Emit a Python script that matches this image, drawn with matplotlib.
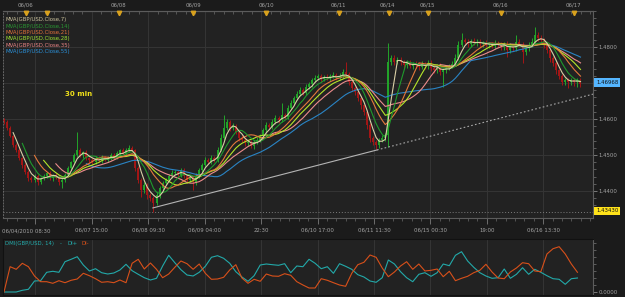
import numpy as np
import pandas as pd
import matplotlib
matplotlib.use("Agg")
import matplotlib.pyplot as plt
from matplotlib.ticker import FixedLocator, NullFormatter

plt.rcParams['font.family'] = ['DejaVu Sans']

# ---------------- data (hourly bars, GBP/USD) ----------------
start_open = 1.4600
close = [
    1.4592, 1.4575, 1.4553, 1.4528, 1.4514, 1.4492, 1.4472, 1.4453, 1.4436, 1.4431,
    1.4442, 1.4425, 1.4436, 1.4442, 1.4450, 1.4436, 1.4445, 1.4439, 1.4425, 1.4431,
    1.4445, 1.4464, 1.4481, 1.4500, 1.4514, 1.4500, 1.4508, 1.4492, 1.4486, 1.4481,
    1.4492, 1.4486, 1.4495, 1.4486, 1.4492, 1.4500, 1.4495, 1.4506, 1.4514, 1.4503,
    1.4514, 1.4519, 1.4514, 1.4464, 1.4431, 1.4403, 1.4417, 1.4389, 1.4381, 1.4367,
    1.4389, 1.4408, 1.4422, 1.4431, 1.4442, 1.4450, 1.4453, 1.4445, 1.4458, 1.4442,
    1.4431, 1.4436, 1.4425, 1.4442, 1.4458, 1.4472, 1.4486, 1.4481, 1.4492, 1.4486,
    1.4514, 1.4547, 1.4575, 1.4592, 1.4575, 1.4581, 1.4564, 1.4547, 1.4542, 1.4533,
    1.4536, 1.4525, 1.4536, 1.4542, 1.4553, 1.4569, 1.4583, 1.4578, 1.4592, 1.4603,
    1.4597, 1.4611, 1.4606, 1.4631, 1.4645, 1.4658, 1.4670, 1.4681, 1.4672, 1.4689,
    1.4697, 1.4708, 1.4714, 1.4719, 1.4711, 1.4717, 1.4714, 1.4719, 1.4722, 1.4714,
    1.4719, 1.4731, 1.4725, 1.4703, 1.4686, 1.4675, 1.4658, 1.4639, 1.4619, 1.4583,
    1.4547, 1.4536, 1.4528, 1.4542, 1.4547, 1.4556, 1.4758, 1.4770, 1.4758, 1.4764,
    1.4758, 1.4750, 1.4756, 1.4747, 1.4753, 1.4750, 1.4745, 1.4753, 1.4747, 1.4756,
    1.4742, 1.4736, 1.4747, 1.4731, 1.4736, 1.4742, 1.4747, 1.4753, 1.4770, 1.4806,
    1.4819, 1.4814, 1.4808, 1.4817, 1.4811, 1.4814, 1.4808, 1.4811, 1.4806, 1.4808,
    1.4803, 1.4811, 1.4806, 1.4800, 1.4808, 1.4792, 1.4803, 1.4797, 1.4814, 1.4806,
    1.4786, 1.4797, 1.4806, 1.4814, 1.4833, 1.4825, 1.4819, 1.4806, 1.4792, 1.4769,
    1.4756, 1.4736, 1.4719, 1.4703, 1.4708, 1.4703, 1.4708, 1.4703, 1.4708, 1.4697,
]
# wick sizes in pips above max(open, close) / below min(open, close)
hi_wick = [
    3, 4, 5, 3, 4, 6, 3, 5, 4, 6,   5, 4, 3, 6, 4, 5, 3, 4, 6, 5,
    4, 6, 3, 5, 50, 5, 4, 6, 3, 5,  4, 5, 6, 3, 4, 5, 6, 4, 3, 5,
    6, 8, 5, 4, 6, 5, 7, 4, 5, 6,   7, 5, 6, 4, 5, 8, 6, 4, 7, 5,
    4, 6, 5, 7, 5, 6, 8, 5, 7, 6,   8, 10, 36, 9, 6, 7, 5, 6, 8, 5,
    6, 7, 5, 8, 6, 7, 9, 6, 8, 7,   6, 34, 7, 8, 9, 6, 7, 8, 6, 9,
    7, 6, 8, 5, 7, 6, 8, 7, 9, 6,   8, 9, 27, 5, 6, 7, 5, 6, 4, 5,
    6, 5, 7, 6, 8, 6, 53, 8, 7, 9,  7, 6, 8, 7, 6, 9, 7, 8, 6, 7,
    8, 6, 7, 9, 6, 8, 7, 9, 10, 12, 20, 7, 8, 6, 9, 7, 8, 6, 9, 7,
    6, 8, 7, 9, 6, 8, 7, 6, 19, 8,  7, 9, 8, 10, 23, 9, 8, 6, 5, 6,
    5, 6, 4, 5, 7, 6, 5, 7, 6, 5,
]
lo_wick = [
    5, 6, 4, 7, 5, 6, 8, 7, 9, 6,   7, 8, 6, 5, 7, 6, 8, 5, 7, 17,
    6, 5, 7, 4, 6, 5, 7, 6, 8, 5,   6, 5, 7, 4, 6, 5, 6, 7, 5, 6,
    5, 6, 7, 9, 8, 20, 8, 10, 9, 24, 6, 8, 7, 5, 6, 7, 5, 8, 6, 7,
    8, 6, 22, 7, 5, 6, 4, 7, 5, 6,  5, 4, 6, 5, 8, 6, 7, 9, 6, 8,
    7, 6, 8, 5, 6, 5, 7, 6, 5, 6,   7, 5, 6, 5, 4, 6, 5, 7, 6, 5,
    6, 7, 5, 6, 7, 5, 6, 8, 5, 7,   6, 5, 7, 8, 7, 9, 8, 10, 9, 11,
    10, 9, 12, 8, 7, 9, 34, 7, 8, 6, 8, 7, 9, 6, 8, 7, 9, 6, 8, 7,
    9, 8, 7, 10, 42, 8, 7, 6, 5, 6, 7, 6, 8, 7, 6, 8, 7, 9, 6, 8,
    7, 9, 6, 8, 7, 20, 8, 7, 9, 6,  30, 8, 7, 6, 8, 9, 7, 10, 9, 11,
    10, 12, 8, 9, 8, 17, 9, 10, 14, 8,
]

ma_windows = [4, 7, 11, 14, 18, 28]
ma_labels = ['MVA(GBP/USD.Close,7)', 'MVA(GBP/USD.Close,14)', 'MVA(GBP/USD.Close,21)',
             'MVA(GBP/USD.Close,28)', 'MVA(GBP/USD.Close,35)', 'MVA(GBP/USD.Close,55)']
ma_colors = ['#d9cfa6', '#1f9a2c', '#e57a3c', '#b4e62a', '#ec8c8c', '#2a84c4']
ma_text_colors = ['#c9c19c', '#2a9632', '#e0703a', '#9ee032', '#e88484', '#2a90d8']

# DMI(14) sampled every 2 bars
di_plus = [
    0, 0, 0, 1.7, 2.7, 11, 11.3, 19.7, 20.7, 19.7,
    30.3, 32.7, 35.3, 27, 21, 23.3, 19.3, 18, 19, 22,
    27.7, 21.3, 17.7, 14.3, 12, 13.7, 26, 36.7, 29.3, 22.3,
    17, 16, 19.7, 25.7, 34.7, 36.3, 33.7, 28.7, 20.3, 15,
    10.7, 16.3, 27, 28, 27.3, 26.7, 28.3, 19.3, 26, 25.3,
    32.7, 28.7, 23.3, 25.3, 18.7, 28.3, 25.7, 22.7, 17.3, 15,
    11, 9.7, 14.3, 32, 28, 20.3, 14.3, 10.3, 17.7, 19.3,
    15.7, 19.3, 28, 26.3, 36.7, 40.3, 31, 24.7, 19.3, 16,
    13.7, 14.3, 23, 13.7, 17.7, 24.3, 17.7, 22.7, 19.7, 16.3,
    13.3, 12.7, 7.7, 13.3, 14,
]
di_minus = [
    0, 25.3, 22.7, 28.7, 25.3, 16, 10.3, 10.3, 8.7, 11.3,
    9.3, 11.7, 13, 18.7, 16.3, 13.3, 9.7, 10.3, 9.3, 12,
    9.3, 28.7, 32.7, 23, 29, 22.7, 14.3, 18, 24.7, 31,
    28.3, 22.7, 28, 18.7, 12.7, 13, 14.7, 22, 27.3, 14,
    8.7, 12.7, 10.7, 18, 16, 15.7, 18.3, 16.7, 10.3, 7,
    4, 4, 13.3, 11.7, 9.3, 7, 5.7, 18.7, 27.3, 29.7,
    37, 34.7, 24, 15.3, 20, 26, 30.3, 22.7, 28, 21,
    21.7, 23, 15.3, 20.7, 11.3, 13.7, 15.7, 19.3, 21.7, 27.7,
    20, 14, 13.3, 20, 24, 29.3, 28.3, 21, 20.3, 38,
    43.3, 45.3, 38, 28, 19.7,
]

trend_x = [48.8, 122.3]
trend_p = [1.4353, 1.4514]
last_price = 1.46968
low_price = 1.43430

bottom_tick_pos = [10.3, 28.8, 47.3, 65.8, 84.3, 102.8, 121.3, 139.8, 158.3, 176.8]
bottom_tick_labels = ['', '06/07 15:00', '06/08 09:30', '06/09 04:00', '22:30',
                      '06/10 17:00', '06/11 11:30', '06/15 00:30', '19:00', '06/16 13:30']
first_label = '06/04/2010 08:30'
top_label_pos = [6.9, 37.5, 62.0, 85.9, 109.5, 125.6, 138.7, 162.6, 186.6]
top_labels = ['06/06', '06/08', '06/09', '06/10', '06/11', '06/14', '06/15', '06/16', '06/17']
day_marker_pos = [7.2, 14.1, 37.7, 62.0, 85.9, 109.8, 126.2, 139.0, 163.0, 186.9]
price_ticks = [1.44, 1.45, 1.46, 1.47, 1.48]

# ---------------- styling ----------------
W, H = 625, 297
FIG_BG = '#1b1b1b'
AX_BG = '#222222'
GRID = '#343434'
TXT = '#a3a3a3'
UP = '#22a52a'
DOWN = '#a51616'
FS = 3.9


def fx(px):
    return px / W


def fy(py):
    return 1 - py / H


fig = plt.figure(figsize=(W / 100, H / 100), dpi=100, facecolor=FIG_BG)

# ---------------- main price panel ----------------
ax = fig.add_axes([fx(3), fy(218), (593 - 3) / W, (218 - 11) / H])
ax.set_facecolor(AX_BG)
ax.set_xlim(-0.33, 193.1)
ax.set_ylim(1.4325, 1.4900)

c = np.array(close)
o = np.r_[start_open, c[:-1]]
x = np.arange(len(c))
top_body = np.maximum(o, c)
bot_body = np.minimum(o, c)
hi = top_body + np.array(hi_wick) * 1e-4
lo = bot_body - np.array(lo_wick) * 1e-4
up = c >= o
for m, col in ((up, UP), (~up, DOWN)):
    ax.vlines(x[m], lo[m], hi[m], color=col, lw=0.7, zorder=2)
    ax.vlines(x[m], bot_body[m], top_body[m], color=col, lw=1.4, zorder=2)

s = pd.Series(c)
for w, col in zip(ma_windows[::-1], ma_colors[::-1]):
    ax.plot(x, s.rolling(w).mean(), color=col, lw=0.8, zorder=3)

# trend line
slope = (trend_p[1] - trend_p[0]) / (trend_x[1] - trend_x[0])
ax.plot(trend_x, trend_p, color='#b4b4b4', lw=0.8, zorder=4)
x_end = ax.get_xlim()[1]
ax.plot([trend_x[1], x_end], [trend_p[1], trend_p[1] + slope * (x_end - trend_x[1])],
        color='#a8a8a8', lw=0.8, ls=(0, (1.5, 2)), zorder=4)

ax.axhline(low_price, color='#7c7c7c', lw=0.7, ls=(0, (1, 2)), zorder=1)

# axes / ticks
ax.yaxis.tick_right()
ax.yaxis.set_major_locator(FixedLocator(price_ticks))
ax.yaxis.set_major_formatter(plt.FuncFormatter(
    lambda v, p: '' if abs(v - 1.47) < 1e-6 else f'{v:.4f}'))
ax.yaxis.set_minor_locator(FixedLocator(np.arange(1.434, 1.490, 0.002)))
ax.tick_params(axis='y', which='major', direction='out', length=3, width=0.6,
               colors='#888888', labelcolor=TXT, labelsize=FS, pad=1)
ax.tick_params(axis='y', which='minor', direction='out', length=2, width=0.5, colors='#777777')

minor_x = np.arange(bottom_tick_pos[0] - 3 * 3.0833, 193.0, 3.0833)
ax.xaxis.set_major_locator(FixedLocator(bottom_tick_pos))
ax.set_xticklabels(bottom_tick_labels)
ax.xaxis.set_minor_locator(FixedLocator(minor_x))
ax.tick_params(axis='x', which='major', direction='out', length=4.5, width=0.6,
               colors='#7a7a7a', labelcolor=TXT, labelsize=FS, pad=2.5)
ax.tick_params(axis='x', which='minor', direction='out', length=2.2, width=0.5, colors='#6a6a6a')

ax.grid(True, which='major', color=GRID, lw=0.8, zorder=0)
ax.set_axisbelow(True)

for side in ('top', 'bottom', 'right'):
    ax.spines[side].set_color('#5c5c5c')
    ax.spines[side].set_linewidth(0.8)
ax.spines['left'].set_color('#666666')
ax.spines['left'].set_linestyle((0, (1, 2)))
ax.spines['left'].set_linewidth(0.7)

top = ax.secondary_xaxis('top')
top.xaxis.set_major_locator(FixedLocator(top_label_pos))
top.set_xticklabels(top_labels)
top.xaxis.set_minor_locator(FixedLocator(minor_x))
top.tick_params(axis='x', which='major', length=0, labelsize=FS, labelcolor=TXT, pad=2.5)
top.tick_params(axis='x', which='minor', direction='in', length=2.2, width=0.5, colors='#6a6a6a')
top.spines['top'].set_color('#5c5c5c')

ax.plot(day_marker_pos, [0.988] * len(day_marker_pos), transform=ax.get_xaxis_transform(),
        ls='none', marker='v', ms=3.2, color='#d9a21e', mec='#d9a21e', clip_on=False, zorder=6)

# legend texts
for i, (lab, col) in enumerate(zip(ma_labels, ma_text_colors)):
    fig.text(fx(6), fy(20 + 6.33 * i), lab, color=col, fontsize=FS, ha='left', va='center')

fig.text(fx(65), fy(94), '30 min', color='#f2e21a', fontsize=5, fontweight='bold',
         ha='left', va='center')

fig.text(fx(2), fy(231), first_label, color=TXT, fontsize=FS, ha='left', va='center')

fig.text(fx(596), fy(82.5), f'{last_price:.5f}', color='#101010', fontsize=FS,
         ha='left', va='center',
         bbox=dict(boxstyle='square,pad=0.3', fc='#55b6ff', ec='none'))
fig.text(fx(596), fy(211), f'{low_price:.5f}', color='#101010', fontsize=FS,
         ha='left', va='center',
         bbox=dict(boxstyle='square,pad=0.3', fc='#ffe21a', ec='none'))

# ---------------- DMI panel ----------------
ax2 = fig.add_axes([fx(3), fy(295), (593 - 3) / W, (295 - 239) / H])
ax2.set_facecolor(AX_BG)
ax2.set_xlim(ax.get_xlim())
ax2.set_ylim(-3, 53)
dmi_x = np.arange(len(di_plus)) * 2
ax2.plot(dmi_x, di_plus, color='#22a9a9', lw=0.8)
ax2.plot(dmi_x, di_minus, color='#d8501a', lw=0.8)

ax2.xaxis.set_major_locator(FixedLocator(bottom_tick_pos))
ax2.xaxis.set_major_formatter(NullFormatter())
ax2.tick_params(axis='x', which='both', length=0)
ax2.grid(True, axis='x', color=GRID, lw=0.8)
ax2.yaxis.tick_right()
ax2.yaxis.set_major_locator(FixedLocator([0]))
ax2.yaxis.set_major_formatter(plt.FuncFormatter(lambda v, p: '0.0000'))
ax2.yaxis.set_minor_locator(FixedLocator([7, 14, 21, 28, 35, 42, 49]))
ax2.tick_params(axis='y', which='major', direction='out', length=3, width=0.6,
                colors='#888888', labelcolor=TXT, labelsize=FS, pad=1)
ax2.tick_params(axis='y', which='minor', direction='out', length=2, width=0.5, colors='#777777')
for side in ('top', 'bottom', 'left'):
    ax2.spines[side].set_color('#111111')
ax2.spines['right'].set_color('#5c5c5c')

fig.text(fx(5), fy(243.5), 'DMI(GBP/USD, 14)', color='#22a9a9', fontsize=FS, ha='left', va='center')
fig.text(fx(60), fy(243.5), '-', color='#22a9a9', fontsize=FS, ha='left', va='center')
fig.text(fx(67), fy(243.5), 'DI+', color='#22a9a9', fontsize=FS, ha='left', va='center')
fig.text(fx(82), fy(243.5), 'DI-', color='#d8501a', fontsize=FS, ha='left', va='center')

fig.savefig('out.png', dpi=100, facecolor=FIG_BG)
